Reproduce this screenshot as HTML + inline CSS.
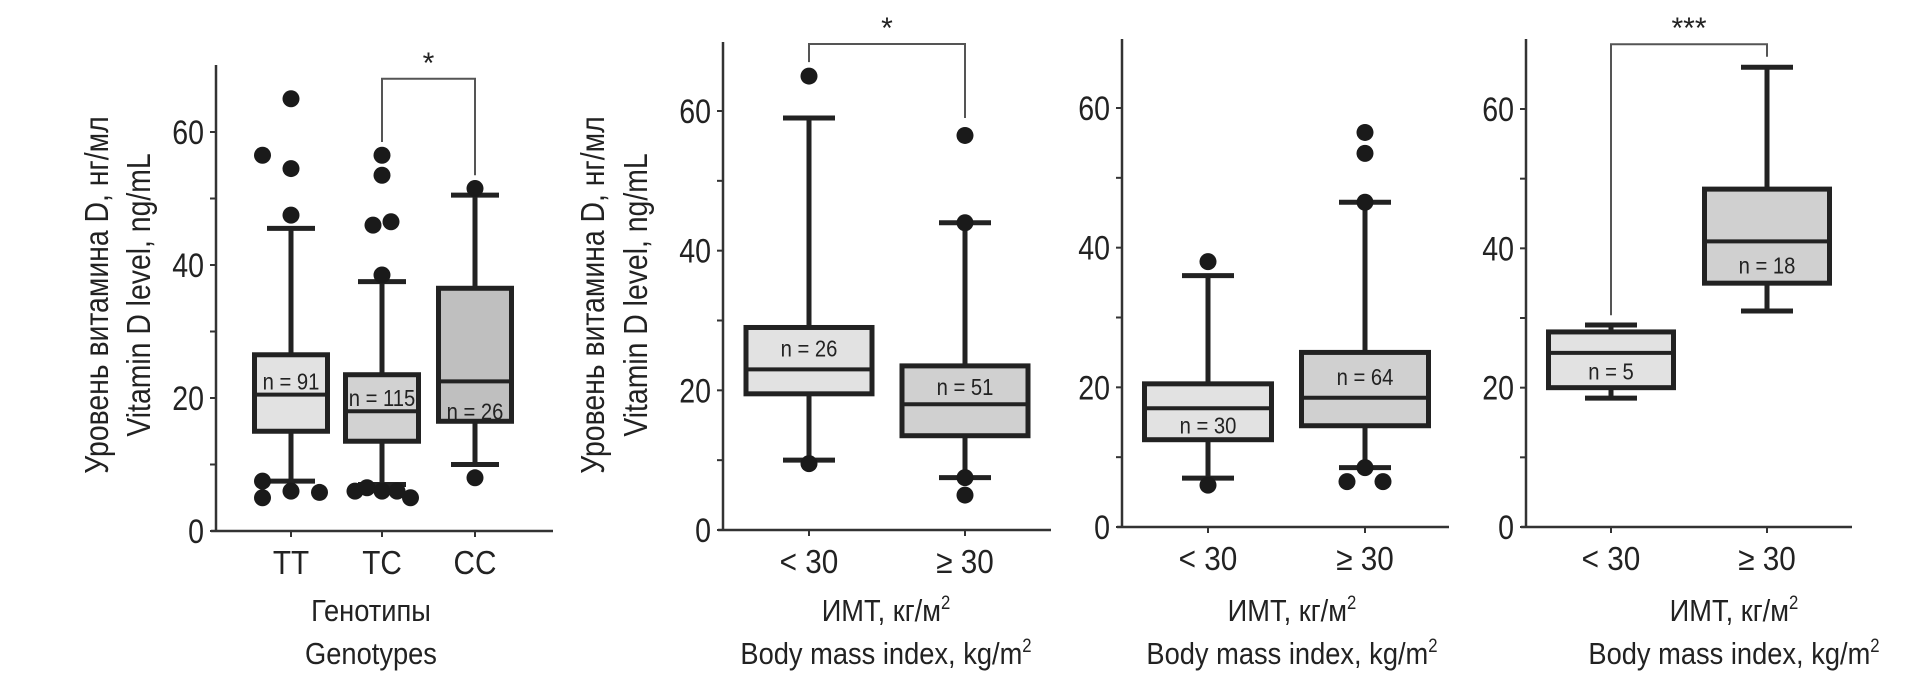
<!DOCTYPE html>
<html><head><meta charset="utf-8"><style>
html,body{margin:0;padding:0;background:#fff;}
svg{display:block;font-family:"Liberation Sans","DejaVu Sans",sans-serif;}
</style></head><body>
<svg id="chart" width="1912" height="692" viewBox="0 0 1912 692" xmlns="http://www.w3.org/2000/svg"></svg>
<script>
// Panel 1 — genotypes
const p1Categories = ["TT","TC","CC"];
const p1Q1 = [15, 13.5, 16.5];
const p1Median = [20.5, 18, 22.5];
const p1Q3 = [26.5, 23.5, 36.5];
const p1WhiskLo = [7.5, 7, 10];
const p1WhiskHi = [45.5, 37.5, 50.5];
const p1N = ["n = 91","n = 115","n = 26"];
const p1NValue = [22.5, 20, 18];
const p1OutCat = [0,0,0,0,0,0,0,0, 1,1,1,1,1,1,1,1,1,1, 2,2];
const p1OutOff = [0,-0.95,0,0,-0.95,-0.95,0,0.95, 0,0,-0.3,0.3,0,-0.9,-0.5,0,0.5,0.95, 0,0];
const p1OutVal = [65,56.5,54.5,47.5,7.5,5,6,5.8, 56.5,53.5,46,46.5,38.5,6,6.5,6,6,5, 51.5,8];

// Panel 2 — BMI
const p2Categories = ["< 30","\u2265 30"];
const p2Q1 = [19.5, 13.5];
const p2Median = [23, 18];
const p2Q3 = [29, 23.5];
const p2WhiskLo = [10, 7.5];
const p2WhiskHi = [59, 44];
const p2N = ["n = 26","n = 51"];
const p2NValue = [26, 20.5];
const p2OutCat = [0,0,1,1,1,1];
const p2OutOff = [0,0,0,0,0,0];
const p2OutVal = [65,9.5,56.5,44,7.5,5];

// Panel 3 — BMI
const p3Categories = ["< 30","\u2265 30"];
const p3Q1 = [12.5, 14.5];
const p3Median = [17, 18.5];
const p3Q3 = [20.5, 25];
const p3WhiskLo = [7, 8.5];
const p3WhiskHi = [36, 46.5];
const p3N = ["n = 30","n = 64"];
const p3NValue = [14.5, 21.5];
const p3OutCat = [0,0,1,1,1,1,1,1];
const p3OutOff = [0,0,0,0,0,0,-0.6,0.6];
const p3OutVal = [38,6,56.5,53.5,46.5,8.5,6.5,6.5];

// Panel 4 — BMI
const p4Categories = ["< 30","\u2265 30"];
const p4Q1 = [20, 35];
const p4Median = [25, 41];
const p4Q3 = [28, 48.5];
const p4WhiskLo = [18.5, 31];
const p4WhiskHi = [29, 66];
const p4N = ["n = 5","n = 18"];
const p4NValue = [22.3, 37.5];
const p4OutCat = [];
const p4OutOff = [];
const p4OutVal = [];

const yTickLabels = ["0","20","40","60"];
const yTickValues = [0,10,20,30,40,50,60];

const svg = document.getElementById('chart');
const NS = 'http://www.w3.org/2000/svg';
function mk(tag, attrs, parent){
  const e = document.createElementNS(NS, tag);
  for (const k in attrs) e.setAttribute(k, attrs[k]);
  (parent||svg).appendChild(e);
  return e;
}

function panel(cfg){
  const g = mk('g', {});
  
  
  const y = v => cfg.y0 - v * (cfg.y0 - cfg.y60) / 60;
  const x = i => cfg.cx[i];
  const ya = mk('line', {x1:cfg.ax, y1:cfg.top, x2:cfg.ax, y2:cfg.y0, stroke:'#333', 'stroke-width':2.5}, g);
  
  
  const xa = mk('line', {x1:cfg.ax-5, y1:cfg.y0, x2:cfg.xend, y2:cfg.y0, stroke:'#333', 'stroke-width':2.5}, g);
  
  
  yTickValues.forEach(v => {
    const t = mk('line', {x1:cfg.ax-6, y1:y(v), x2:cfg.ax, y2:y(v), stroke:'#333', 'stroke-width':2}, g);
    
    
  });
  yTickLabels.forEach(s => {
    const t = mk('text', {x:cfg.ax-12, y:y(+s)+12, 'text-anchor':'end', 'font-size':34, fill:'#222', transform:`translate(${cfg.ax-12},0) scale(0.84,1) translate(${-(cfg.ax-12)},0)`}, g);
    t.textContent = s;
    
    
  });
  cfg.cats.forEach((c, i) => {
    const tk = mk('line', {x1:x(i), y1:cfg.y0, x2:x(i), y2:cfg.y0+6, stroke:'#333', 'stroke-width':2}, g);
    
    
    const t = mk('text', {x:x(i), y:cfg.y0+43, 'text-anchor':'middle', 'font-size':33, fill:'#222', transform:`translate(${x(i)},0) scale(0.9,1) translate(${-x(i)},0)`}, g);
    t.textContent = c;
    
    
    const hw = cfg.bw/2;
    const wh = mk('line', {x1:x(i), y1:y(cfg.whi[i]), x2:x(i), y2:y(cfg.wlo[i]), stroke:'#222', 'stroke-width':5}, g);
    
    
    [cfg.whi[i], cfg.wlo[i]].forEach(v => {
      const cap = mk('line', {x1:x(i)-cfg.cap, y1:y(v), x2:x(i)+cfg.cap, y2:y(v), stroke:'#222', 'stroke-width':5}, g);
      
      
    });
    const b = mk('rect', {x:x(i)-hw, y:y(cfg.q3[i]), width:cfg.bw, height:y(cfg.q1[i])-y(cfg.q3[i]), fill:cfg.fills[i], stroke:'#222', 'stroke-width':5}, g);
    
    
    const m = mk('line', {x1:x(i)-hw, y1:y(cfg.med[i]), x2:x(i)+hw, y2:y(cfg.med[i]), stroke:'#222', 'stroke-width':4}, g);
    
    
    const n = mk('text', {x:x(i), y:y(cfg.nv[i])+8, 'text-anchor':'middle', 'font-size':23, fill:'#222', transform:`translate(${x(i)},0) scale(0.88,1) translate(${-x(i)},0)`}, g);
    n.textContent = cfg.n[i];
    
    
  });
  cfg.oc.forEach((c, k) => {
    const d = mk('circle', {cx:x(c) + cfg.oo[k]*cfg.dx, cy:y(cfg.ov[k]), r:8.5, fill:'#1a1a1a'}, g);
    
    
  });
  if (cfg.br){
    const [a, b, topV, la, lb, stars] = cfg.br;
    const p = mk('polyline', {points:`${x(a)},${y(la)} ${x(a)},${y(topV)} ${x(b)},${y(topV)} ${x(b)},${y(lb)}`, fill:'none', stroke:'#555', 'stroke-width':2}, g);
    
    
    const s = mk('text', {x:(x(a)+x(b))/2, y:y(topV)-6, 'text-anchor':'middle', 'font-size':30, fill:'#222'}, g);
    s.textContent = stars;
    
    
  }
  if (cfg.ylab){
    const cy = cfg.ylab[2];
    [[cfg.ylab[0],'Уровень витамина D, нг/мл'],[cfg.ylab[1],'Vitamin D level, ng/mL']].forEach(([lx, s]) => {
      const t = mk('text', {x:lx, y:cy, 'text-anchor':'middle', 'font-size':33, fill:'#222', transform:`rotate(-90 ${lx} ${cy}) translate(${lx},0) scale(0.86,1) translate(${-lx},0)`}, g);
      t.textContent = s;
      
      
    });
  }
  cfg.xlab.forEach((s, k) => {
    const t = mk('text', {x:cfg.xlc, y:[621, 664][k], 'text-anchor':'middle', 'font-size':31, fill:'#222', transform:`translate(${cfg.xlc},0) scale(0.88,1) translate(${-cfg.xlc},0)`}, g);
    t.innerHTML = s;
    
    
  });
}

const bmiLab = ['ИМТ, кг/м<tspan font-size="19" dy="-12">2</tspan>', 'Body mass index, kg/m<tspan font-size="19" dy="-12">2</tspan>'];

panel({name:'genotype-panel', ax:216, top:65, y0:531, y60:132, xend:553, cx:[291,382,475], bw:73, cap:24, dx:30,
  cats:p1Categories, q1:p1Q1, med:p1Median, q3:p1Q3, wlo:p1WhiskLo, whi:p1WhiskHi, n:p1N, nv:p1NValue,
  oc:p1OutCat, oo:p1OutOff, ov:p1OutVal, fills:['#e2e2e2','#d2d2d2','#bfbfbf'],
  br:[1,2,68,58.5,53.5,'*'], ylab:[108,150,295], xlc:371, xlab:['Генотипы','Genotypes']});

panel({name:'bmi-panel-1', ax:723, top:42, y0:530, y60:111, xend:1051, cx:[809,965], bw:126, cap:26, dx:30,
  cats:p2Categories, q1:p2Q1, med:p2Median, q3:p2Q3, wlo:p2WhiskLo, whi:p2WhiskHi, n:p2N, nv:p2NValue,
  oc:p2OutCat, oo:p2OutOff, ov:p2OutVal, fills:['#e2e2e2','#d0d0d0'],
  br:[0,1,69.6,67,59,'*'], ylab:[604,647,295], xlc:886, xlab:bmiLab});

panel({name:'bmi-panel-2', ax:1122, top:39, y0:527, y60:108, xend:1449, cx:[1208,1365], bw:127, cap:26, dx:30,
  cats:p3Categories, q1:p3Q1, med:p3Median, q3:p3Q3, wlo:p3WhiskLo, whi:p3WhiskHi, n:p3N, nv:p3NValue,
  oc:p3OutCat, oo:p3OutOff, ov:p3OutVal, fills:['#e2e2e2','#d0d0d0'],
  br:null, ylab:null, xlc:1292, xlab:bmiLab});

panel({name:'bmi-panel-3', ax:1526, top:39, y0:527, y60:109, xend:1852, cx:[1611,1767], bw:125, cap:26, dx:30,
  cats:p4Categories, q1:p4Q1, med:p4Median, q3:p4Q3, wlo:p4WhiskLo, whi:p4WhiskHi, n:p4N, nv:p4NValue,
  oc:p4OutCat, oo:p4OutOff, ov:p4OutVal, fills:['#e2e2e2','#d0d0d0'],
  br:[0,1,69.3,30.4,67.5,'***'], ylab:null, xlc:1734, xlab:bmiLab});
</script>
</body></html>
